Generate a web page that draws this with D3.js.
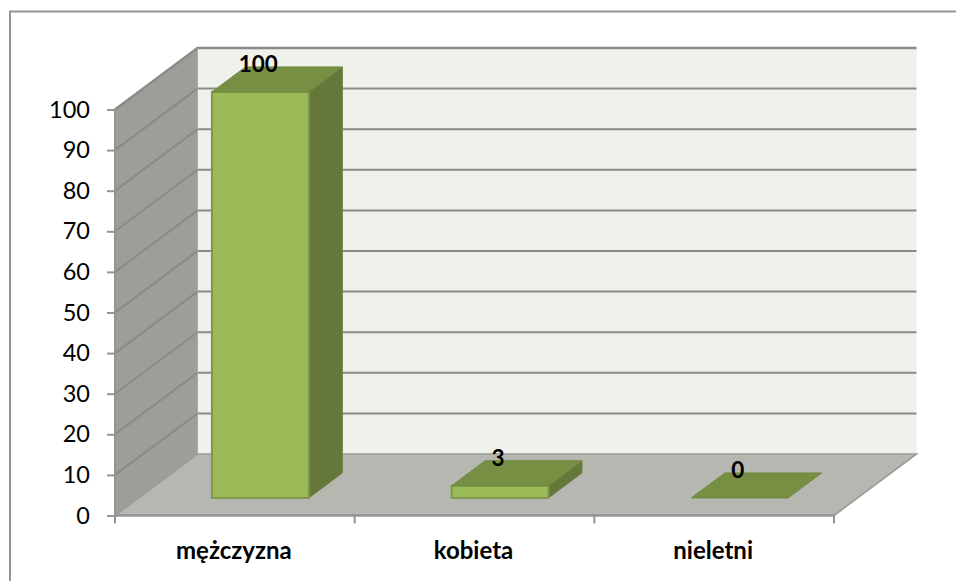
<!DOCTYPE html>
<html><head><meta charset="utf-8">
<script src="https://cdn.jsdelivr.net/npm/d3@7"></script>
<style>html,body{margin:0;background:#fff}svg{display:block}text{font-family:Lato,Carlito,sans-serif}</style>
</head><body><div id="c"></div>
<script>
const categories = ["mężczyzna","kobieta","nieletni"];
const values = [100,3,0];
const tickValues = d3.range(0,101,10);
const W=956,H=581;
const svg=d3.select("#c").append("svg").attr("width",W).attr("height",H);
const x=d3.scaleBand().domain(categories).range([115,834]);
const y=d3.scaleLinear().domain([0,100]).range([515.5,109.5]);
const depth={x:82.5,y:-61.5};
const pt=(a,b)=>a+","+b;
const frameCol="#949494", gridCol="#8a8a8a";
svg.append("path").attr("d","M10,581V11.5H956").attr("fill","none").attr("stroke",frameCol).attr("stroke-width",2);
const x0=x.range()[0],x1=x.range()[1];
svg.append("polygon").attr("points",[pt(x0+depth.x,y(100)+depth.y),pt(x1+depth.x,y(100)+depth.y),pt(x1+depth.x,y(0)+depth.y),pt(x0+depth.x,y(0)+depth.y)].join(" ")).attr("fill","#eff1eb");
svg.append("polygon").attr("points",[pt(x0,y(100)),pt(x0+depth.x,y(100)+depth.y),pt(x0+depth.x,y(0)+depth.y),pt(x0,y(0))].join(" ")).attr("fill","#9c9e97");
svg.append("polygon").attr("points",[pt(x0,y(0)),pt(x0+depth.x,y(0)+depth.y),pt(x1+depth.x,y(0)+depth.y),pt(x1,y(0))].join(" ")).attr("fill","#b5b7b0");
tickValues.forEach(t=>{
  if(t>0) svg.append("path").attr("d",`M${x0},${y(t)}L${x0+depth.x},${y(t)+depth.y}H${x1+depth.x}`).attr("fill","none").attr("stroke",gridCol).attr("stroke-width",t==100?2.4:2);
});
svg.append("path").attr("d",`M${x0},${y(0)}L${x0+depth.x},${y(0)+depth.y}H${x1+depth.x}L${x1},${y(0)}`).attr("fill","none").attr("stroke","#9a9c96").attr("stroke-width",1.6);
svg.append("line").attr("x1",x0+depth.x).attr("x2",x0+depth.x).attr("y1",y(100)+depth.y).attr("y2",y(0)+depth.y).attr("stroke","#a8aaa4").attr("stroke-width",1);
const axL=d3.axisLeft(y).tickValues(tickValues).tickSize(8).tickPadding(17);
const gL=svg.append("g").attr("transform",`translate(${x0},0)`).call(axL);
gL.selectAll("text").attr("font-size",23.5).attr("fill","#000").attr("font-family","Lato");
gL.selectAll("line,path").attr("stroke",frameCol).attr("stroke-width",2);
gL.select("path").attr("d",`M0,${y(100)}V${y(0)}`);
const axB=d3.axisBottom(x).tickSize(0).tickPadding(26);
const gB=svg.append("g").attr("transform",`translate(0,${y(0)})`).call(axB);
gB.select("path").attr("d",`M${x0},0H${x1}`).attr("stroke",frameCol).attr("stroke-width",2.4);
gB.selectAll("text").attr("font-size",24).attr("font-weight",700).attr("fill","#000").attr("font-family","Lato").attr("dx",-1);
gB.selectAll("line").remove();
const edges=[x0].concat(categories.map(c=>x(c)+x.bandwidth()));
gB.selectAll("line.edge").data(edges).join("line").attr("class","edge").attr("x1",d=>d).attr("x2",d=>d).attr("y1",0).attr("y2",8).attr("stroke",frameCol).attr("stroke-width",2);
const barW=x.bandwidth()*0.404, zF=0.285, zB=0.692;
const cols={front:"#9bbb59",side:"#65783a",top:"#768f43",edge:"#7f9a48"};
categories.forEach((c,i)=>{
  const v=values[i];
  const fx=zF*depth.x, fy=zF*depth.y, ddx=(zB-zF)*depth.x, ddy=(zB-zF)*depth.y;
  const yb=y(0)+fy, yt=y(v)+fy;
  const lx=x(c)+(x.bandwidth()-barW)/2+fx+2, rx=lx+barW;
  const g=svg.append("g");
  if(v>0){
    g.append("polygon").attr("points",[pt(rx,yb),pt(rx+ddx,yb+ddy),pt(rx+ddx,yt+ddy),pt(rx,yt)].join(" ")).attr("fill",cols.side).attr("stroke","#6c8140").attr("stroke-width",1);
    g.append("rect").attr("x",lx).attr("y",yt).attr("width",barW).attr("height",yb-yt).attr("fill",cols.front).attr("stroke",cols.edge).attr("stroke-width",2);
  }
  g.append("polygon").attr("points",[pt(lx,yt),pt(lx+ddx,yt+ddy),pt(rx+ddx,yt+ddy),pt(rx,yt)].join(" ")).attr("fill",cols.top).attr("stroke","#71893f").attr("stroke-width",1);
  g.append("text").attr("x",lx+barW/2-2).attr("y",yt+ddy+5).attr("text-anchor","middle").attr("font-size",22.5).attr("font-weight",700).attr("fill","#000").text(v);
});
</script></body></html>
